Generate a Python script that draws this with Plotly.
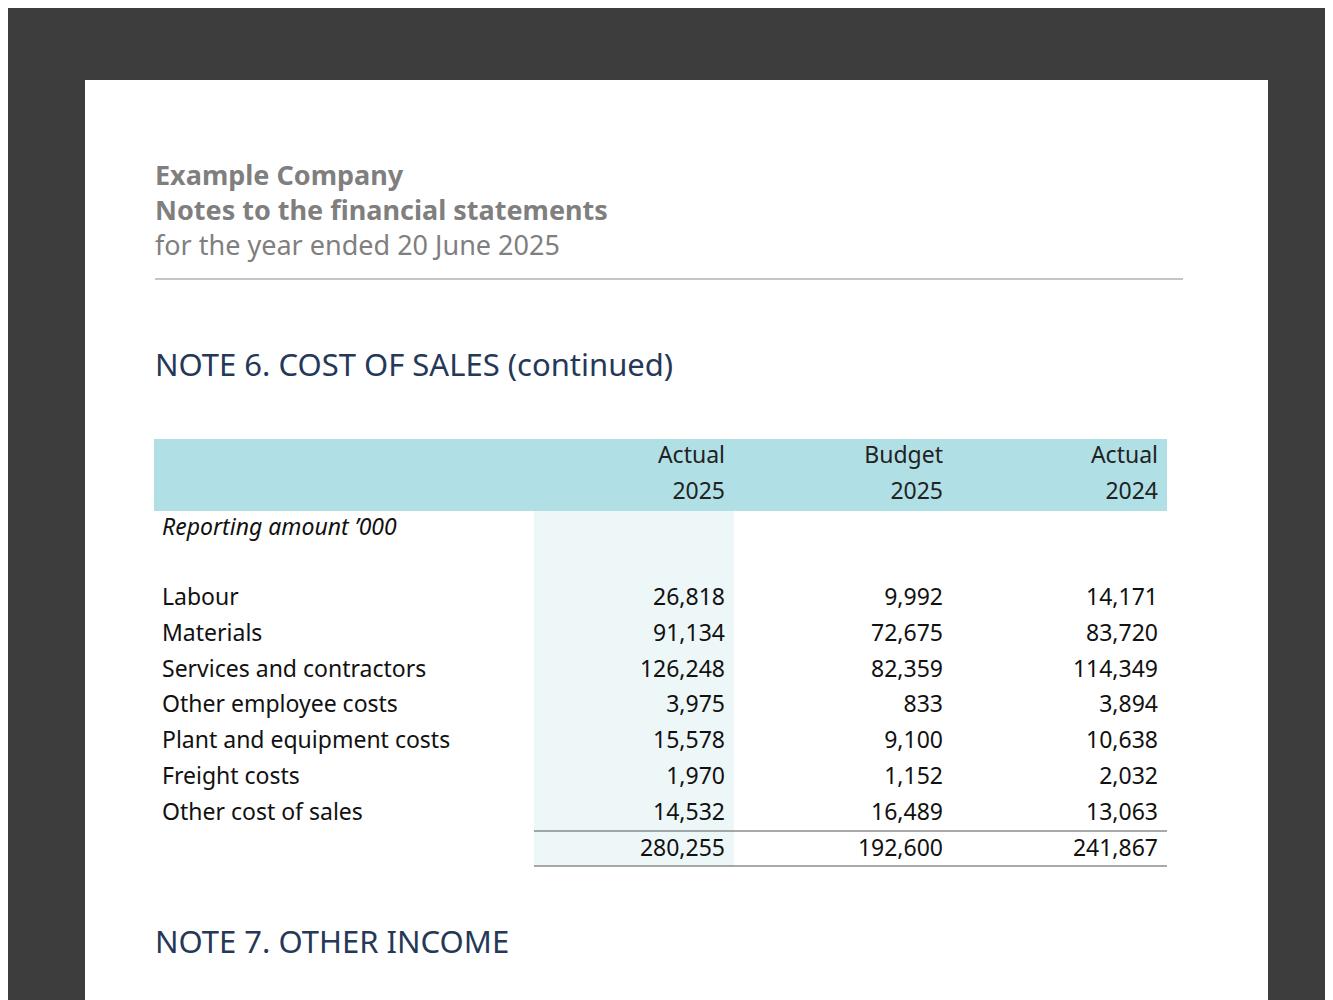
import plotly.graph_objects as go

# Data
company = "Example Company"
subtitle = "Notes to the financial statements"
period = "for the year ended 20 June 2025"
note_title = "NOTE 6. COST OF SALES (continued)"
next_note = "NOTE 7. OTHER INCOME"

col_top = ["Actual", "Budget", "Actual"]
col_year = ["2025", "2025", "2024"]
unit_label = "Reporting amount \u2018000".replace("8", "")
unit_label = "Reporting amount \u2019000"

items = ["Labour", "Materials", "Services and contractors", "Other employee costs",
         "Plant and equipment costs", "Freight costs", "Other cost of sales"]
actual_2025 = [26818, 91134, 126248, 3975, 15578, 1970, 14532]
budget_2025 = [9992, 72675, 82359, 833, 9100, 1152, 16489]
actual_2024 = [14171, 83720, 114349, 3894, 10638, 2032, 13063]
totals = [280255, 192600, 241867]

# Layout (pixel space)
W, H = 1333, 1000
font = "Noto Sans, Open Sans, sans-serif"
col_x = [717, 935, 1150]
label_x = 154
row0 = 591
row_step = 35.9
navy = "#253858"
grey = "#7f7f7f"

fig = go.Figure()

shapes = [
    dict(type="rect", xref="x", yref="y", x0=77, x1=1260, y0=72, y1=1010,
         fillcolor="white", line_width=0, layer="below"),
    dict(type="line", x0=147, x1=1175, y0=271, y1=271, line=dict(color="#8c8c8c", width=1)),
    dict(type="rect", x0=146, x1=1159, y0=431, y1=503, fillcolor="#b0e0e6", line_width=0, layer="below"),
    dict(type="rect", x0=526, x1=726, y0=503, y1=858, fillcolor="#eef7f8", line_width=0, layer="below"),
    dict(type="line", x0=526, x1=1159, y0=823, y1=823, line=dict(color="#555", width=1)),
    dict(type="line", x0=526, x1=1159, y0=858, y1=858, line=dict(color="#555", width=1)),
]

# header block
fig.add_trace(go.Scatter(
    x=[147, 147, 147], y=[170, 205, 240], mode="text",
    text=["<b>" + company + "</b>", "<b>" + subtitle + "</b>", period],
    textposition="middle right", textfont=dict(family=font, size=27, color=grey),
    hoverinfo="skip"))
fig.add_trace(go.Scatter(
    x=[147, 147], y=[360, 937], mode="text", text=[note_title, next_note],
    textposition="middle right", textfont=dict(family=font, size=31, color=navy),
    hoverinfo="skip"))

# column headers
fig.add_trace(go.Scatter(
    x=col_x + col_x, y=[449] * 3 + [485] * 3, mode="text", text=col_top + col_year,
    textposition="middle left", textfont=dict(family=font, size=23, color="#222"),
    hoverinfo="skip"))

# row labels
rows_y = [row0 + i * row_step for i in range(len(items))]
fig.add_trace(go.Scatter(
    x=[label_x] * (len(items) + 1), y=[521] + rows_y, mode="text",
    text=["<i>" + unit_label + "</i>"] + items,
    textposition="middle right", textfont=dict(family=font, size=23, color="#111"),
    hoverinfo="skip"))

# values
total_y = row0 + len(items) * row_step
for cx, vals, tot in zip(col_x, [actual_2025, budget_2025, actual_2024], totals):
    fig.add_trace(go.Scatter(
        x=[cx] * (len(vals) + 1), y=rows_y + [total_y], mode="text",
        text=[f"{v:,}" for v in vals + [tot]],
        textposition="middle left", textfont=dict(family=font, size=23, color="#111"),
        hoverinfo="skip"))

fig.update_layout(
    width=W, height=H, margin=dict(l=0, r=0, t=0, b=0),
    paper_bgcolor="#3d3d3d", plot_bgcolor="#3d3d3d", showlegend=False,
    xaxis=dict(range=[0, W], visible=False, fixedrange=True),
    yaxis=dict(range=[H, 0], visible=False, fixedrange=True),
    shapes=shapes,
)

fig.write_html("out.html")
